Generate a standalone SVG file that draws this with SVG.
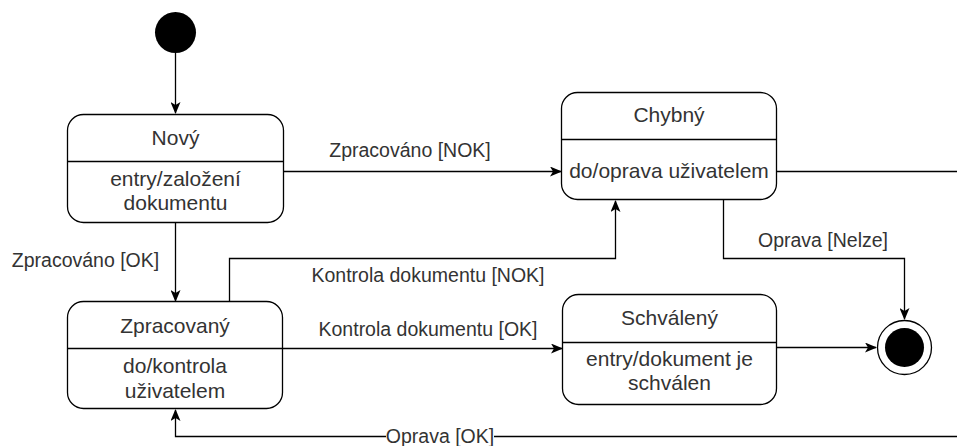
<svg xmlns="http://www.w3.org/2000/svg" width="957" height="446" viewBox="0 0 957 446">
  <defs>
    <marker id="arrow" viewBox="0 0 12 10" refX="11" refY="5" markerWidth="12" markerHeight="10" markerUnits="userSpaceOnUse" orient="auto">
      <path d="M0,0 L12,5 L0,10 L3,5 Z" fill="#000"/>
    </marker>
  </defs>
  <style>
    .state { fill: #fff; stroke: #000; stroke-width: 1.3; }
    .div { stroke: #000; stroke-width: 1.3; }
    .t { font-family: "Liberation Sans", Arial, sans-serif; font-size: 21px; fill: #333; text-anchor: middle; }
    .lbl { font-family: "Liberation Sans", Arial, sans-serif; font-size: 19.5px; fill: #333; text-anchor: middle; }
    .edge { fill: none; stroke: #000; stroke-width: 1.3; marker-end: url(#arrow); }
  </style>
  <rect width="957" height="446" fill="#fff"/>

  <!-- transitions -->
  <g id="connectors">
    <path class="edge" d="M175.5 53 V113"/>
    <path class="edge" d="M284 171.5 H561"/>
    <path class="edge" d="M175.5 222 V301"/>
    <path class="edge" d="M229.5 301 V258.5 H615.5 V201"/>
    <path class="edge" d="M283 348.5 H562"/>
    <path class="edge" d="M723.5 200 V258.5 H904.5 V319"/>
    <path class="edge" d="M777 347.5 H876"/>
    <path class="edge" d="M777 171.5 H960 V436.5 H175.5 V410"/>
    <text class="lbl" x="410" y="157">Zpracováno [NOK]</text>
    <text class="lbl" x="85.5" y="267">Zpracováno [OK]</text>
    <text class="lbl" x="428" y="282">Kontrola dokumentu [NOK]</text>
    <text class="lbl" x="428" y="336">Kontrola dokumentu [OK]</text>
    <text class="lbl" x="823" y="247">Oprava [Nelze]</text>
    <rect x="386" y="428" width="108" height="18" fill="#fff"/>
    <text class="lbl" x="440" y="443">Oprava [OK]</text>
  </g>

  <g id="initial">
    <circle cx="175.5" cy="32.5" r="20.5" fill="#000"/>
  </g>

  <g id="final">
    <circle cx="904.5" cy="347.5" r="27" fill="#fff" stroke="#000" stroke-width="1.3"/>
    <circle cx="904.5" cy="347.5" r="19.5" fill="#000"/>
  </g>

  <g id="novy">
    <rect class="state" x="67.5" y="114.5" width="216" height="108" rx="16"/>
    <line class="div" x1="67.5" y1="161.5" x2="283.5" y2="161.5"/>
    <text class="t" x="175.5" y="145">Nový</text>
    <text class="t" x="175.5" y="186">entry/založení</text>
    <text class="t" x="175.5" y="210">dokumentu</text>
  </g>

  <g id="chybny">
    <rect class="state" x="561.5" y="92.5" width="215" height="107" rx="16"/>
    <line class="div" x1="561.5" y1="139.5" x2="776.5" y2="139.5"/>
    <text class="t" x="669" y="122">Chybný</text>
    <text class="t" x="669" y="178">do/oprava uživatelem</text>
  </g>

  <g id="zpracovany">
    <rect class="state" x="67.5" y="301.5" width="215" height="107" rx="16"/>
    <line class="div" x1="67.5" y1="348.5" x2="282.5" y2="348.5"/>
    <text class="t" x="175" y="333">Zpracovaný</text>
    <text class="t" x="175" y="373">do/kontrola</text>
    <text class="t" x="175" y="398">uživatelem</text>
  </g>

  <g id="schvaleny">
    <rect class="state" x="562.5" y="294.5" width="214" height="110" rx="16"/>
    <line class="div" x1="562.5" y1="342.5" x2="776.5" y2="342.5"/>
    <text class="t" x="669.5" y="325">Schválený</text>
    <text class="t" x="669.5" y="366">entry/dokument je</text>
    <text class="t" x="669.5" y="390">schválen</text>
  </g>
</svg>
